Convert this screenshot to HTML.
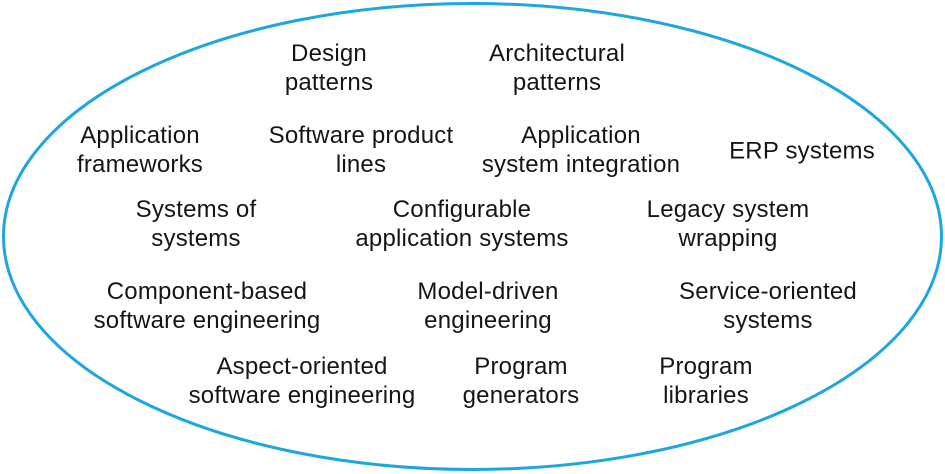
<!DOCTYPE html>
<html><head><meta charset="utf-8"><style>
html,body{margin:0;padding:0;background:#fff;}
#c{position:relative;width:945px;height:474px;overflow:hidden;font-family:"Liberation Sans",sans-serif;font-size:24px;letter-spacing:0.2px;color:#151515;}
.l{position:absolute;transform:translate(-50%,-50%);text-align:center;white-space:nowrap;line-height:29px;}
</style></head><body><div id="c">
<svg width="945" height="474" style="position:absolute;left:0;top:0">
<ellipse cx="472.5" cy="236.5" rx="469" ry="233" fill="none" stroke="#1ea6e0" stroke-width="3"/>
</svg>
<div class="l" style="left:329px;top:68px">Design<br>patterns</div>
<div class="l" style="left:557px;top:68px">Architectural<br>patterns</div>
<div class="l" style="left:140px;top:150px">Application<br>frameworks</div>
<div class="l" style="left:361px;top:150px">Software product<br>lines</div>
<div class="l" style="left:581px;top:150px">Application<br>system integration</div>
<div class="l" style="left:802px;top:151px">ERP systems</div>
<div class="l" style="left:196px;top:224px">Systems of<br>systems</div>
<div class="l" style="left:462px;top:224px">Configurable<br>application systems</div>
<div class="l" style="left:728px;top:224px">Legacy system<br>wrapping</div>
<div class="l" style="left:207px;top:306px">Component-based<br>software engineering</div>
<div class="l" style="left:488px;top:306px">Model-driven<br>engineering</div>
<div class="l" style="left:768px;top:306px">Service-oriented<br>systems</div>
<div class="l" style="left:302px;top:381px">Aspect-oriented<br>software engineering</div>
<div class="l" style="left:521px;top:381px">Program<br>generators</div>
<div class="l" style="left:706px;top:381px">Program<br>libraries</div>
</div></body></html>
